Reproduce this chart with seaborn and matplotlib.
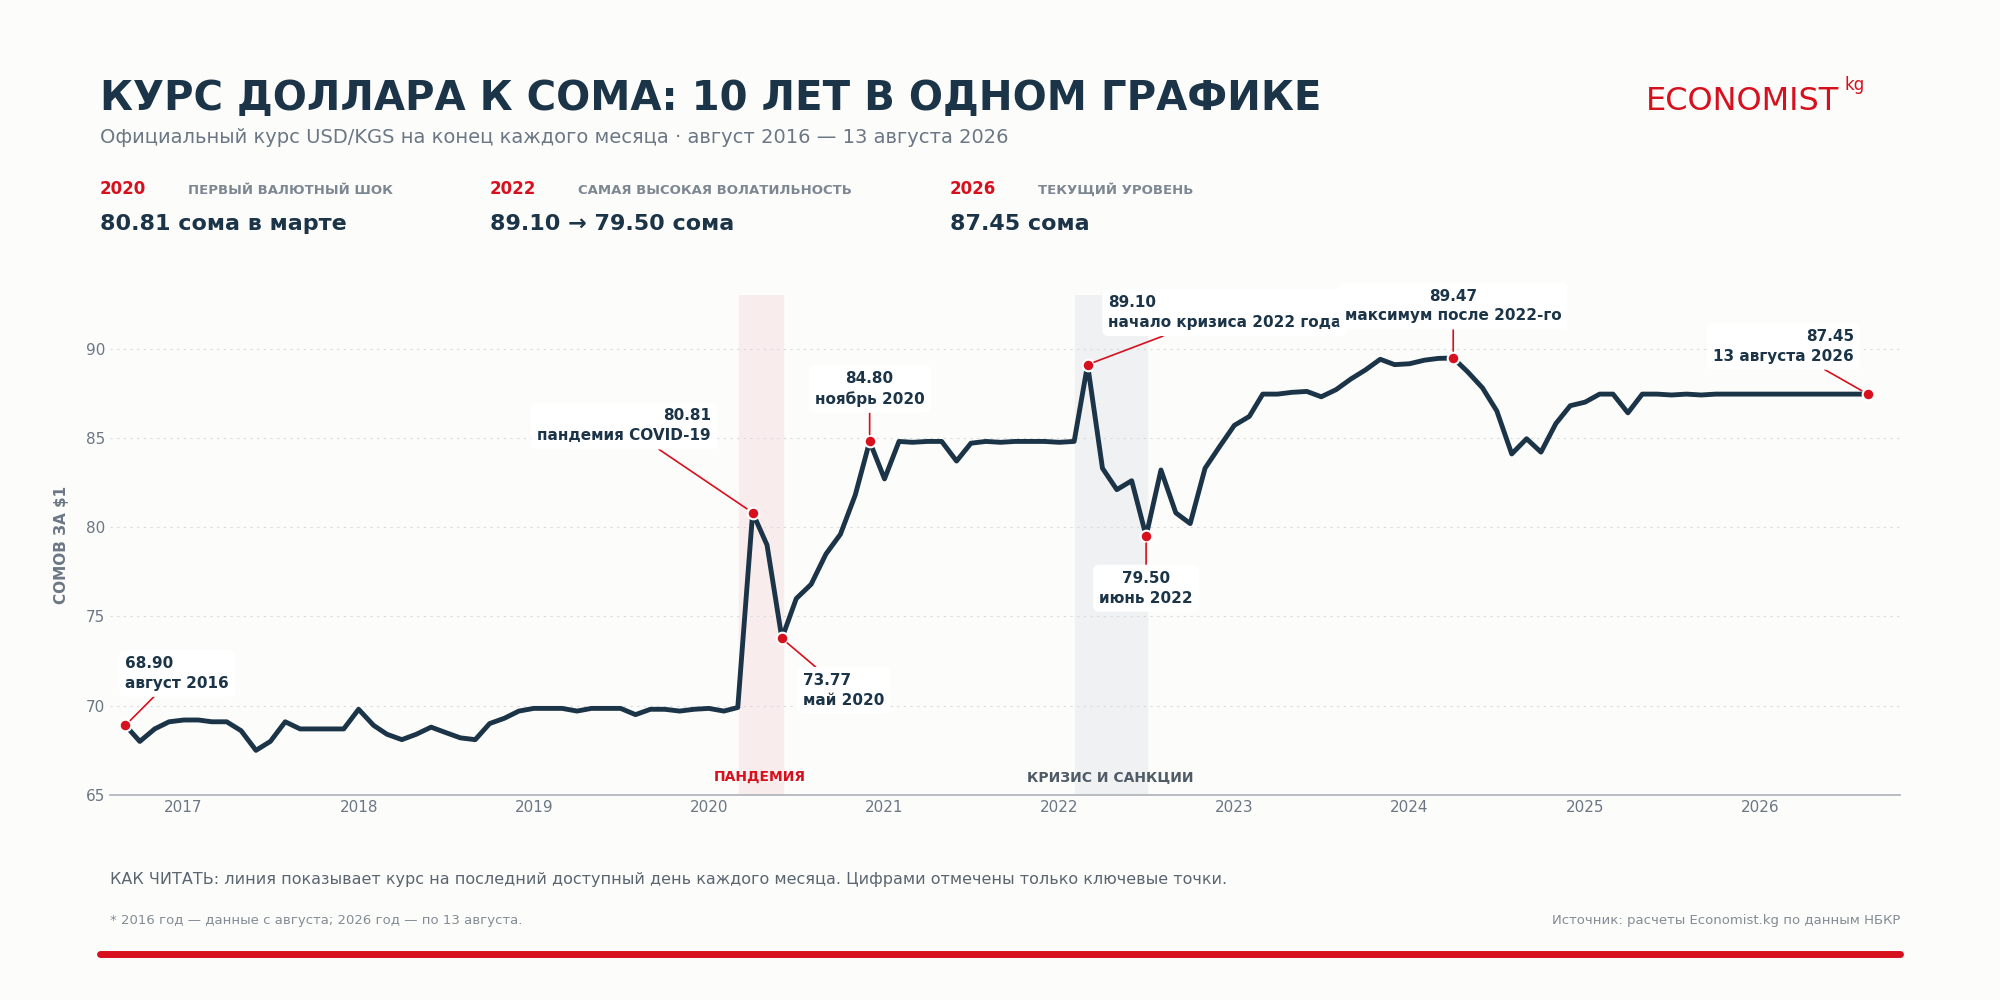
import numpy as np
import pandas as pd
import matplotlib.pyplot as plt
import seaborn as sns

sns.set_theme(style="white")
plt.rcParams['font.family'] = ['DejaVu Sans']

# monthly rate, end of month, Aug 2016 .. Aug 2026 (last point = 13 Aug)
rates_2016 = [68.90, 68.0, 68.7, 69.1, 69.2]
rates_2017 = [69.2, 69.1, 69.1, 68.6, 67.5, 68.0, 69.1, 68.7, 68.7, 68.7, 68.7, 69.8]
rates_2018 = [68.9, 68.4, 68.1, 68.4, 68.8, 68.5, 68.2, 68.1, 69.0, 69.3, 69.7, 69.85]
rates_2019 = [69.85, 69.85, 69.7, 69.85, 69.85, 69.85, 69.5, 69.8, 69.8, 69.7, 69.8, 69.85]
rates_2020 = [69.7, 69.9, 80.81, 79.0, 73.77, 76.0, 76.8, 78.5, 79.6, 81.8, 84.80, 82.7]
rates_2021 = [84.8, 84.75, 84.8, 84.8, 83.7, 84.7, 84.8, 84.75, 84.8, 84.8, 84.8, 84.75]
rates_2022 = [84.8, 89.10, 83.3, 82.1, 82.6, 79.50, 83.2, 80.8, 80.2, 83.3, 84.5, 85.7]
rates_2023 = [86.2, 87.45, 87.45, 87.55, 87.6, 87.3, 87.7, 88.3, 88.8, 89.4, 89.1, 89.15]
rates_2024 = [89.35, 89.45, 89.47, 88.7, 87.8, 86.5, 84.1, 84.95, 84.2, 85.8, 86.8, 87.0]
rates_2025 = [87.45, 87.45, 86.4, 87.45, 87.45, 87.4, 87.45, 87.4, 87.45, 87.45, 87.45, 87.45]
rates_2026 = [87.45, 87.45, 87.45, 87.45, 87.45, 87.45, 87.45, 87.45]

rates = (rates_2016 + rates_2017 + rates_2018 + rates_2019 + rates_2020 + rates_2021
         + rates_2022 + rates_2023 + rates_2024 + rates_2025 + rates_2026)
dates = pd.date_range("2016-08-31", periods=len(rates) - 1, freq="ME").append(
    pd.DatetimeIndex(["2026-08-13"]))
years = dates.year + (dates.dayofyear / 365.25)
df = pd.DataFrame({"t": years, "rate": rates})

# key points: (index, label, text offset in points, ha)
key_points = [
    (0, "68.90\nавгуст 2016", (0, 25), "left"),
    (43, "80.81\nпандемия COVID-19", (-30, 50), "right"),
    (45, "73.77\nмай 2020", (15, -25), "left"),
    (51, "84.80\nноябрь 2020", (0, 25), "center"),
    (66, "89.10\nначало кризиса 2022 года", (15, 25), "left"),
    (70, "79.50\nиюнь 2022", (0, -25), "center"),
    (91, "89.47\nмаксимум после 2022-го", (0, 25), "center"),
    (120, "87.45\n13 августа 2026", (-10, 22), "right"),
]

navy = "#1b3447"
red = "#d7101e"
grey = "#6b7785"
bg = "#fcfcfa"

fig = plt.figure(figsize=(20, 10), dpi=100, facecolor=bg)
ax = fig.add_axes([0.055, 0.205, 0.895, 0.5], facecolor=bg)

ax.axvspan(2020.17, 2020.42, color="#f9ecec", zorder=0)
ax.axvspan(2022.09, 2022.5, color="#f0f1f2", zorder=0)
ax.text(2020.29, 65.8, "ПАНДЕМИЯ", color=red, fontsize=10, fontweight="bold", ha="center")
ax.text(2022.29, 65.8, "КРИЗИС И САНКЦИИ", color="#4f5b66", fontsize=10, fontweight="bold", ha="center")

sns.lineplot(data=df, x="t", y="rate", ax=ax, color=navy, linewidth=3.5, zorder=3)

for i, label, off, ha in key_points:
    x, y = df.t[i], df.rate[i]
    ax.scatter([x], [y], s=70, color=red, edgecolor="white", linewidth=1.5, zorder=5)
    ax.annotate(label, (x, y), xytext=off, textcoords="offset points",
                ha=ha, va="bottom" if off[1] > 0 else "top", fontsize=11, fontweight="bold",
                color=navy, linespacing=1.4,
                bbox=dict(boxstyle="round,pad=0.4", fc="white", ec="none"),
                arrowprops=dict(arrowstyle="-", color=red, lw=1.2, shrinkA=0, shrinkB=5),
                zorder=6)

ax.set_xlim(2016.58, 2026.8)
ax.set_ylim(65, 93)
ax.set_yticks([65, 70, 75, 80, 85, 90])
ax.set_xticks(range(2017, 2027))
ax.tick_params(axis="both", colors=grey, labelsize=11, length=0)
ax.yaxis.grid(True, linestyle=(0, (2, 4)), color="#d8dbde", linewidth=0.8)
for s in ["top", "right", "left"]:
    ax.spines[s].set_visible(False)
ax.spines["bottom"].set_color("#b0b5ba")
ax.set_xlabel("")
ax.set_ylabel("СОМОВ ЗА $1", color=grey, fontsize=11, fontweight="bold", labelpad=12)

# header
fig.text(0.05, 0.89, "КУРС ДОЛЛАРА К СОМА: 10 ЛЕТ В ОДНОМ ГРАФИКЕ", fontsize=29,
         fontweight="bold", color=navy)
fig.text(0.05, 0.857, "Официальный курс USD/KGS на конец каждого месяца · август 2016 — 13 августа 2026",
         fontsize=14, color=grey)
fig.text(0.823, 0.89, "ECONOMIST", fontsize=23, color=red)
fig.text(0.922, 0.91, "kg", fontsize=12, color=red)

stats = [(0.05, "2020", "ПЕРВЫЙ ВАЛЮТНЫЙ ШОК", "80.81 сома в марте"),
         (0.245, "2022", "САМАЯ ВЫСОКАЯ ВОЛАТИЛЬНОСТЬ", "89.10 → 79.50 сома"),
         (0.475, "2026", "ТЕКУЩИЙ УРОВЕНЬ", "87.45 сома")]
for x, yr, cap, val in stats:
    fig.text(x, 0.806, yr, fontsize=12, fontweight="bold", color=red)
    fig.text(x + 0.044, 0.806, cap, fontsize=9.5, fontweight="bold", color="#7d8792")
    fig.text(x, 0.77, val, fontsize=16, fontweight="bold", color=navy)

# footer
fig.text(0.055, 0.116, "КАК ЧИТАТЬ: линия показывает курс на последний доступный день каждого месяца. "
         "Цифрами отмечены только ключевые точки.", fontsize=11.5, color="#5a6570")
fig.text(0.055, 0.076, "* 2016 год — данные с августа; 2026 год — по 13 августа.", fontsize=9.5, color="#838c95")
fig.text(0.95, 0.076, "Источник: расчеты Economist.kg по данным НБКР", fontsize=9.5,
         color="#838c95", ha="right")
fig.add_artist(plt.Line2D([0.05, 0.95], [0.046, 0.046], color=red, linewidth=5))

fig.savefig("out.png", dpi=100, facecolor=bg)
